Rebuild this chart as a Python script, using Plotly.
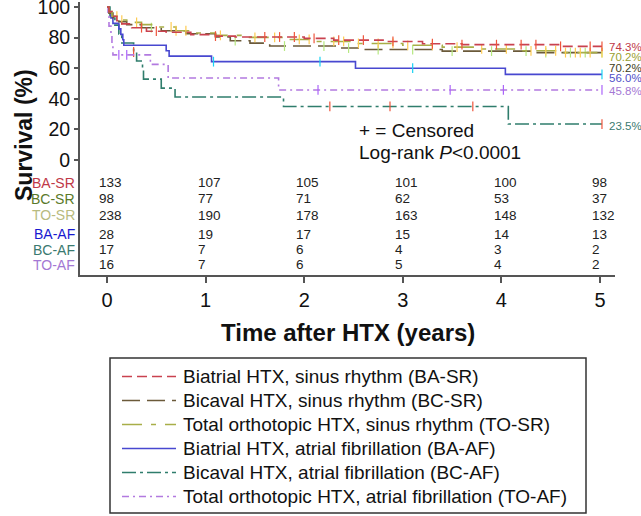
import plotly.graph_objects as go

# ---------------- data ----------------
groups = ["BA-SR", "BC-SR", "TO-SR", "BA-AF", "BC-AF", "TO-AF"]
legend_names = [
    "Biatrial HTX, sinus rhythm (BA-SR)",
    "Bicaval HTX, sinus rhythm (BC-SR)",
    "Total orthotopic HTX, sinus rhythm (TO-SR)",
    "Biatrial HTX, atrial fibrillation (BA-AF)",
    "Bicaval HTX, atrial fibrillation (BC-AF)",
    "Total orthotopic HTX, atrial fibrillation (TO-AF)",
]

ba_sr_t = [0, 0.02, 0.05, 0.1, 0.15, 0.25, 0.4, 0.6, 0.85, 1.1, 1.3, 2.0, 2.3, 2.8, 3.2, 3.6, 4.6, 5.02]
ba_sr_s = [100, 97.0, 94.0, 91.0, 89.0, 86.5, 84.2, 83.5, 82.0, 81.0, 80.4, 79.5, 78.4, 77.5, 76.0, 75.4, 74.3, 74.3]
ba_sr_c = [0.35, 0.5, 1.1, 1.6, 1.75, 1.9, 2.1, 2.35, 2.6, 2.9, 3.3, 3.6, 3.95, 4.2, 4.35, 4.6, 4.9, 5.02]

bc_sr_t = [0, 0.02, 0.06, 0.12, 0.2, 0.35, 0.55, 0.8, 1.1, 1.25, 1.45, 1.65, 2.33, 2.6, 3.4, 4.3, 5.02]
bc_sr_s = [100, 96.0, 93.0, 90.5, 88.5, 86.5, 84.5, 82.5, 80.5, 78.0, 76.4, 74.5, 73.2, 72.2, 71.2, 70.2, 70.2]
bc_sr_c = [0.45, 1.3, 1.8, 2.2, 2.45, 2.75, 3.1, 3.5, 3.9, 4.25, 4.45, 4.7, 4.85, 5.02]

to_sr_t = [0, 0.02, 0.05, 0.12, 0.2, 0.35, 0.5, 0.7, 0.9, 1.1, 1.4, 1.8, 2.1, 2.5, 3.0, 3.4, 3.8, 4.2, 4.6, 5.02]
to_sr_s = [100, 97.0, 94.0, 91.5, 90.0, 88.5, 87.0, 84.5, 83.0, 81.5, 80.2, 78.8, 77.5, 76.2, 75.0, 73.8, 72.6, 71.4, 70.2, 70.2]
to_sr_c = [0.1, 0.15, 0.3, 0.65, 0.7, 0.8, 1.15, 1.5, 1.7, 1.95, 2.05, 2.3, 2.4, 2.55, 2.75, 2.9, 3.05,
           3.3, 3.55, 3.8, 4.05, 4.3, 4.45, 4.55, 4.65, 4.75, 4.8, 4.9, 5.02]

ba_af_t = [0, 0.02, 0.04, 0.06, 0.12, 0.14, 0.16, 0.17, 0.6, 0.63, 1.06, 2.52, 4.04, 5.02]
ba_af_s = [100, 96.4, 92.9, 89.3, 85.7, 82.1, 78.6, 75.0, 71.4, 67.9, 64.3, 60.0, 56.0, 56.0]
ba_af_c = [1.08, 2.16, 3.10, 5.02]

bc_af_t = [0, 0.03, 0.08, 0.12, 0.15, 0.27, 0.3, 0.36, 0.37, 0.55, 0.69, 1.79, 4.07, 5.02]
bc_af_s = [100, 94.1, 88.2, 82.4, 76.5, 70.6, 64.7, 58.8, 52.9, 47.0, 41.2, 35.0, 23.5, 23.5]
bc_af_c = [0.27, 2.26, 2.87, 3.71, 5.02]

to_af_t = [0, 0.01, 0.02, 0.04, 0.05, 0.06, 0.44, 0.62, 1.74, 5.02]
to_af_s = [100, 93.75, 87.5, 81.25, 75.0, 68.75, 62.5, 53.6, 45.8, 45.8]
to_af_c = [0.12, 0.2, 2.14, 3.48, 4.02, 5.02]

final_labels = ["74.3%", "70.2%", "70.2%", "56.0%", "23.5%", "45.8%"]

risk_times = [0, 1, 2, 3, 4, 5]
risk_ba_sr = [133, 107, 105, 101, 100, 98]
risk_bc_sr = [98, 77, 71, 62, 53, 37]
risk_to_sr = [238, 190, 178, 163, 148, 132]
risk_ba_af = [28, 19, 17, 15, 14, 13]
risk_bc_af = [17, 7, 6, 4, 3, 2]
risk_to_af = [16, 7, 6, 5, 4, 2]

y_ticks = [0, 20, 40, 60, 80, 100]
x_ticks = [0, 1, 2, 3, 4, 5]

# ---------------- styles ----------------
FONT = "Liberation Sans, Arial, sans-serif"
line_colors = ["#c9424f", "#6b5a3a", "#a8ae48", "#4848d0", "#2f7d6c", "#b27ae0"]
label_colors = ["#c03848", "#5a7a2a", "#b8bb80", "#1818d0", "#3a7a70", "#a478d4"]
pct_colors = ["#c03848", "#9aa030", "#3d3d20", "#5050c8", "#3a7a70", "#a478d4"]
dashes = ["10px,5px", "18px,7px", "20px,9px,5px,9px", "solid", "14px,4px,3px,4px", "7px,4px,2px,4px"]

curves = [
    (ba_sr_t, ba_sr_s, ba_sr_c),
    (bc_sr_t, bc_sr_s, bc_sr_c),
    (to_sr_t, to_sr_s, to_sr_c),
    (ba_af_t, ba_af_s, ba_af_c),
    (bc_af_t, bc_af_s, bc_af_c),
    (to_af_t, to_af_s, to_af_c),
]
risks = [risk_ba_sr, risk_bc_sr, risk_to_sr, risk_ba_af, risk_bc_af, risk_to_af]


def step_value(ts, ss, x):
    v = ss[0]
    for t, s in zip(ts, ss):
        if t <= x:
            v = s
    return v


fig = go.Figure()
draw_order = [4, 5, 3, 1, 2, 0]
for i in draw_order:
    ts, ss, cs = curves[i]
    fig.add_trace(go.Scatter(
        x=ts, y=ss, mode="lines", line=dict(color=line_colors[i], width=1.6, dash=dashes[i], shape="hv"),
        showlegend=False, hoverinfo="skip", cliponaxis=False))
    fig.add_trace(go.Scatter(
        x=cs, y=[step_value(ts, ss, c) for c in cs], mode="markers",
        marker=dict(symbol="line-ns-open", size=7, line=dict(color=line_colors[i], width=1.2)),
        showlegend=False, hoverinfo="skip", cliponaxis=False))

# plot geometry (pixels)
W, H = 641, 516
ML, MR, MT, MB = 80, 26, 2, 241
PW, PH = W - ML - MR, H - MT - MB


def px_x(px):
    return (px - ML) / PW


def px_y(py):
    return (H - MB - py) / PH


annotations = []
# number at risk table
risk_rows_y = [-15, -25.5, -36, -48.4, -58.8, -68.6]
for i, g in enumerate(groups):
    annotations.append(dict(x=px_x(77), y=risk_rows_y[i], xref="paper", yref="y", text=g, showarrow=False,
                            xanchor="right", yanchor="middle", font=dict(size=14, color=label_colors[i], family=FONT)))
    for t, n in zip(risk_times, risks[i]):
        annotations.append(dict(x=t - 0.1, y=risk_rows_y[i], xref="x", yref="y", text=str(n), showarrow=False,
                                xanchor="left", yanchor="middle", font=dict(size=13.5, color="#222", family=FONT)))

# final survival labels
pct_label_y = [74.3, 70.2, 70.2, 56.0, 23.5, 45.8]
pct_shift = [-1, -4.5, -15.5, -4, -2, -1]
for i in range(6):
    annotations.append(dict(x=5.08, y=pct_label_y[i], xref="x", yref="y", text=final_labels[i], showarrow=False,
                            xanchor="left", yanchor="middle", yshift=pct_shift[i], borderpad=0,
                            font=dict(size=11.5, color=pct_colors[i], family=FONT)))

annotations.append(dict(x=px_x(357), y=px_y(130), xref="paper", yref="paper", text="+ = Censored",
                        showarrow=False, xanchor="left", yanchor="middle", font=dict(size=19, color="#111", family=FONT)))
annotations.append(dict(x=px_x(357), y=px_y(152), xref="paper", yref="paper",
                        text="Log-rank <i>P</i><0.0001", showarrow=False, xanchor="left", yanchor="middle",
                        font=dict(size=19, color="#111", family=FONT)))

# axis titles
annotations.append(dict(x=px_x(348), y=px_y(332), xref="paper", yref="paper", text="<b>Time after HTX (years)</b>",
                        showarrow=False, xanchor="center", yanchor="middle", font=dict(size=24, color="#111", family=FONT)))
annotations.append(dict(x=px_x(24), y=px_y(135), xref="paper", yref="paper", text="<b>Survival (%)</b>",
                        showarrow=False, xanchor="center", yanchor="middle", textangle=-90,
                        font=dict(size=23, color="#111", family=FONT)))

# custom legend
shapes = [dict(type="rect", xref="paper", yref="paper", x0=px_x(110), x1=px_x(586), y0=px_y(358), y1=px_y(513),
               line=dict(color="#333", width=1.5), fillcolor="white")]
leg_y0, leg_dy = 376.5, 24
for i in range(6):
    py = leg_y0 + i * leg_dy
    shapes.append(dict(type="line", xref="paper", yref="paper", x0=px_x(122), x1=px_x(176), y0=px_y(py), y1=px_y(py),
                       line=dict(color=line_colors[i], width=1.6, dash=dashes[i])))
    annotations.append(dict(x=px_x(181), y=px_y(py), xref="paper", yref="paper", text=legend_names[i],
                            showarrow=False, xanchor="left", yanchor="middle",
                            font=dict(size=19, color="#111", family=FONT)))

fig.update_layout(
    width=W, height=H, margin=dict(l=ML, r=MR, t=MT, b=MB, autoexpand=False),
    paper_bgcolor="white", plot_bgcolor="white",
    font=dict(family=FONT, color="#111"),
    annotations=annotations, shapes=shapes, showlegend=False,
    xaxis=dict(range=[-0.274, 5.152], tickvals=x_ticks, ticks="outside", ticklen=6, tickwidth=2, tickcolor="#555",
               showline=True, linecolor="#555", linewidth=2, showgrid=False, zeroline=False, automargin=False,
               tickfont=dict(size=20, color="#111", family=FONT)),
    yaxis=dict(range=[-75.2, 103.3], tickvals=y_ticks, ticks="outside", ticklen=4, tickwidth=2, tickcolor="#555",
               showline=True, linecolor="#555", linewidth=2, showgrid=False, zeroline=False, automargin=False,
               ticklabeloverflow="allow", ticklabelstandoff=0,
               tickfont=dict(size=19.5, color="#111", family=FONT)),
)

fig.write_html(
    "out.html",
    config={"displayModeBar": False},
    post_script="document.body.style.margin='0';document.body.style.padding='0';"
                "document.body.style.overflow='hidden';",
)
